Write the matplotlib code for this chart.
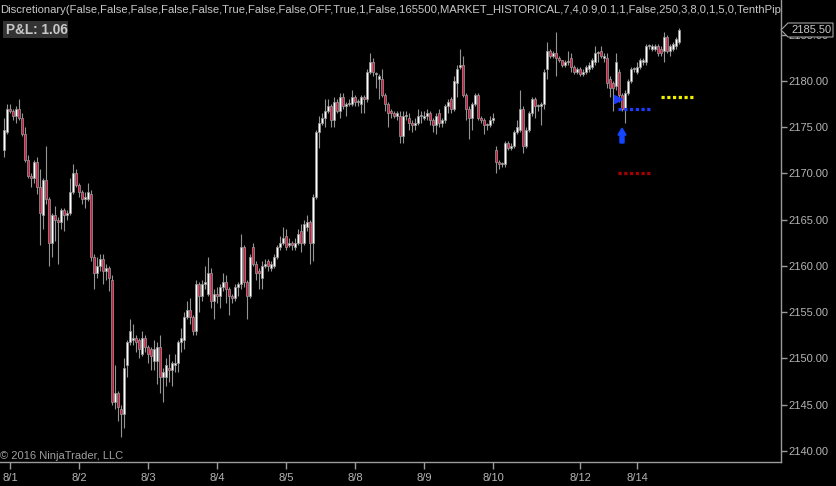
import matplotlib
matplotlib.use("Agg")
import matplotlib.pyplot as plt
from matplotlib.patches import Polygon, Rectangle, FancyArrow

# ---------------- data ----------------
opens = [
 2172.5, 2174.5, 2177.0, 2176.75, 2176.25, 2177.0, 2176.0, 2174.25, 2171.5, 2169.75,
 2169.5, 2171.25, 2168.5, 2165.5, 2169.25, 2167.25, 2162.5, 2165.5, 2165.0, 2164.75,
 2166.0, 2165.5, 2165.75, 2168.0, 2170.0, 2168.75, 2168.0, 2167.25, 2167.25, 2167.75,
 2161.0, 2159.25, 2160.0, 2160.75, 2159.5, 2159.75, 2158.5, 2145.25, 2146.25, 2144.5,
 2144.0, 2149.25, 2151.75, 2152.0, 2152.25, 2152.0, 2150.5, 2152.25, 2151.25, 2151.0,
 2149.75, 2149.75, 2151.25, 2148.0, 2148.0, 2149.0, 2148.75, 2149.25, 2149.5, 2151.75,
 2152.0, 2154.5, 2155.25, 2154.5, 2153.0, 2158.0, 2156.75, 2158.0, 2157.0, 2159.25,
 2156.25, 2157.0, 2156.75, 2157.75, 2158.25, 2157.5, 2156.75, 2156.5, 2157.75, 2158.0,
 2162.0, 2158.25, 2156.75, 2162.0, 2160.25, 2159.5, 2158.75, 2160.0, 2160.5, 2159.75,
 2160.0, 2161.0, 2162.0, 2162.5, 2163.25, 2162.25, 2162.5, 2162.0, 2162.5, 2163.75,
 2162.5, 2164.25, 2164.75, 2162.5, 2167.5, 2174.5, 2175.5, 2176.0, 2176.75, 2177.25,
 2175.75, 2177.75, 2176.75, 2178.25, 2177.25, 2177.5, 2177.5, 2178.25, 2177.75, 2177.5,
 2178.25, 2178.0, 2181.0, 2182.0, 2180.75, 2180.25, 2180.25, 2178.5, 2177.5, 2176.75,
 2176.5, 2176.25, 2176.25, 2174.0, 2176.25, 2176.0, 2175.5, 2175.25, 2175.5, 2176.25,
 2176.0, 2176.25, 2176.5, 2175.75, 2175.25, 2176.5, 2175.5, 2175.75, 2177.25, 2178.0,
 2177.0, 2179.75, 2181.5, 2181.75, 2178.5, 2177.0, 2176.0, 2177.5, 2178.5, 2176.0,
 2175.75, 2175.25, 2175.25, 2175.75, 2172.5, 2171.25, 2171.0, 2171.0, 2173.25, 2172.75,
 2173.0, 2174.5, 2174.75, 2177.0, 2173.0, 2174.75, 2176.5, 2178.0, 2177.25, 2177.25,
 2177.5, 2181.25, 2183.25, 2182.75, 2183.0, 2182.5, 2182.25, 2181.75, 2182.0, 2182.5,
 2181.5, 2181.0, 2181.25, 2180.75, 2181.0, 2181.25, 2181.5, 2182.0, 2183.0, 2183.25,
 2182.5, 2182.5, 2180.25, 2179.75, 2179.5, 2181.0, 2178.5, 2177.0, 2178.75, 2180.0,
 2181.25, 2181.0, 2181.5, 2182.0, 2182.0, 2183.75, 2183.5, 2183.5, 2183.75, 2183.5,
 2183.25, 2184.75, 2183.25, 2183.5, 2183.75, 2184.25,
]
highs = [
 2176.0, 2177.5, 2177.5, 2177.0, 2177.25, 2178.0, 2176.5, 2175.0, 2172.0, 2170.0,
 2171.5, 2171.75, 2170.5, 2169.5, 2173.0, 2167.5, 2165.75, 2166.5, 2165.25, 2166.25,
 2166.25, 2166.0, 2169.5, 2171.0, 2170.5, 2169.0, 2168.25, 2168.0, 2169.0, 2168.25,
 2161.25, 2161.0, 2161.25, 2161.25, 2160.25, 2160.0, 2159.0, 2149.25, 2146.5, 2145.0,
 2150.0, 2152.0, 2154.25, 2153.75, 2152.5, 2152.25, 2153.0, 2152.5, 2151.5, 2151.25,
 2152.0, 2151.75, 2152.5, 2149.0, 2150.0, 2150.5, 2149.75, 2150.5, 2152.0, 2153.25,
 2155.0, 2156.25, 2156.5, 2154.75, 2158.5, 2158.25, 2158.5, 2160.0, 2161.0, 2159.75,
 2157.5, 2157.75, 2158.0, 2159.25, 2159.0, 2157.75, 2157.0, 2158.0, 2158.25, 2163.5,
 2162.25, 2158.5, 2161.25, 2162.5, 2160.5, 2159.75, 2160.5, 2160.75, 2160.75, 2160.5,
 2161.25, 2162.25, 2163.25, 2164.25, 2164.0, 2163.0, 2162.75, 2163.0, 2164.0, 2164.5,
 2165.0, 2165.5, 2165.0, 2167.75, 2174.75, 2176.25, 2176.5, 2178.0, 2178.0, 2177.5,
 2178.25, 2178.0, 2178.75, 2178.75, 2177.75, 2178.0, 2179.0, 2178.5, 2178.0, 2178.5,
 2178.5, 2181.25, 2183.0, 2182.5, 2181.0, 2180.75, 2181.25, 2178.75, 2177.75, 2177.0,
 2176.75, 2176.75, 2176.75, 2176.75, 2176.75, 2176.5, 2175.75, 2176.0, 2177.0, 2176.75,
 2176.75, 2177.0, 2176.75, 2176.0, 2176.5, 2177.0, 2176.0, 2177.5, 2178.0, 2178.25,
 2180.5, 2181.75, 2183.5, 2182.75, 2178.75, 2177.25, 2177.75, 2178.75, 2178.75, 2176.25,
 2176.0, 2175.5, 2176.25, 2176.5, 2173.0, 2171.5, 2171.25, 2173.5, 2173.5, 2173.25,
 2174.75, 2175.75, 2179.0, 2177.25, 2175.0, 2176.75, 2178.25, 2178.25, 2177.5, 2177.75,
 2181.25, 2184.25, 2183.5, 2183.25, 2185.25, 2182.75, 2182.25, 2182.25, 2183.25, 2183.0,
 2181.75, 2181.5, 2181.5, 2181.25, 2181.75, 2182.0, 2182.5, 2183.75, 2183.25, 2183.75,
 2183.0, 2183.0, 2180.5, 2180.0, 2183.0, 2181.25, 2178.75, 2179.0, 2180.25, 2181.5,
 2181.5, 2182.0, 2182.5, 2182.5, 2184.0, 2184.0, 2184.0, 2184.0, 2184.0, 2183.75,
 2185.25, 2185.0, 2184.0, 2184.25, 2184.75, 2185.75,
]
lows = [
 2171.75, 2174.25, 2176.5, 2175.75, 2175.5, 2175.75, 2174.0, 2171.25, 2169.5, 2168.5,
 2169.0, 2167.75, 2162.25, 2164.0, 2166.75, 2160.0, 2161.0, 2162.75, 2160.25, 2164.0,
 2163.75, 2165.0, 2165.5, 2167.75, 2168.5, 2167.5, 2166.75, 2166.25, 2167.0, 2160.5,
 2157.5, 2158.75, 2159.5, 2158.0, 2158.5, 2157.25, 2145.0, 2144.5, 2143.25, 2141.5,
 2142.5, 2148.0, 2151.5, 2151.5, 2150.75, 2150.0, 2150.25, 2150.75, 2149.5, 2148.75,
 2148.75, 2147.25, 2146.25, 2145.25, 2147.0, 2147.5, 2147.0, 2148.5, 2148.5, 2150.75,
 2151.0, 2154.25, 2153.75, 2152.5, 2152.5, 2155.0, 2156.25, 2157.5, 2156.75, 2155.5,
 2154.25, 2156.0, 2155.5, 2157.25, 2156.0, 2154.75, 2156.0, 2156.25, 2156.75, 2157.5,
 2157.75, 2154.25, 2156.5, 2160.0, 2158.5, 2157.5, 2157.5, 2159.75, 2159.5, 2159.5,
 2159.75, 2160.75, 2161.75, 2162.25, 2161.75, 2162.0, 2161.75, 2161.75, 2162.25, 2161.5,
 2162.25, 2163.75, 2160.25, 2160.5, 2167.25, 2172.75, 2175.25, 2175.0, 2176.5, 2175.0,
 2175.0, 2176.5, 2176.0, 2177.0, 2176.25, 2177.25, 2177.25, 2177.25, 2177.25, 2176.5,
 2176.5, 2177.75, 2180.75, 2180.5, 2179.25, 2178.0, 2178.25, 2176.75, 2175.0, 2176.0,
 2176.0, 2175.75, 2173.25, 2173.25, 2175.75, 2174.75, 2174.5, 2174.75, 2175.25, 2175.5,
 2175.75, 2175.75, 2175.25, 2174.5, 2174.25, 2175.0, 2175.0, 2175.5, 2176.5, 2176.5,
 2176.75, 2178.25, 2181.25, 2178.25, 2175.75, 2173.75, 2174.75, 2177.25, 2175.75, 2175.5,
 2174.25, 2174.75, 2175.0, 2175.5, 2170.0, 2170.5, 2170.75, 2170.75, 2172.5, 2172.5,
 2172.75, 2174.25, 2174.5, 2172.25, 2172.75, 2174.5, 2176.25, 2176.0, 2176.75, 2175.25,
 2177.0, 2180.25, 2182.5, 2182.5, 2180.5, 2182.0, 2181.5, 2181.5, 2181.75, 2181.0,
 2180.75, 2180.75, 2180.5, 2180.5, 2180.75, 2181.0, 2181.25, 2181.75, 2182.0, 2182.5,
 2182.0, 2179.25, 2178.25, 2176.75, 2179.0, 2177.75, 2176.75, 2175.5, 2178.5, 2179.75,
 2181.0, 2180.75, 2181.25, 2181.75, 2181.75, 2183.5, 2183.25, 2183.25, 2182.75, 2182.75,
 2182.0, 2183.0, 2182.75, 2183.25, 2183.5, 2184.0,
]
closes = [
 2174.75, 2177.0, 2176.75, 2176.25, 2177.0, 2176.0, 2174.25, 2171.5, 2169.75, 2169.5,
 2171.25, 2168.5, 2165.75, 2169.25, 2167.25, 2162.5, 2165.5, 2165.0, 2164.75, 2166.0,
 2165.5, 2165.75, 2168.0, 2170.0, 2168.75, 2168.0, 2167.25, 2167.5, 2168.0, 2161.0,
 2159.25, 2160.0, 2160.75, 2159.5, 2159.75, 2158.75, 2145.25, 2146.25, 2144.75, 2144.0,
 2149.0, 2151.75, 2153.0, 2152.25, 2151.75, 2151.0, 2152.25, 2151.25, 2150.5, 2150.25,
 2151.0, 2151.25, 2148.0, 2148.5, 2149.25, 2148.75, 2149.5, 2149.5, 2151.75, 2152.25,
 2154.5, 2155.25, 2154.5, 2153.0, 2158.0, 2156.75, 2158.0, 2158.25, 2159.25, 2156.25,
 2157.0, 2156.75, 2157.75, 2158.25, 2157.5, 2156.75, 2156.5, 2157.75, 2158.0, 2162.0,
 2158.25, 2156.75, 2161.0, 2160.25, 2159.25, 2159.25, 2160.0, 2160.25, 2160.0, 2160.25,
 2161.0, 2162.0, 2162.5, 2163.0, 2162.0, 2162.5, 2162.25, 2162.5, 2163.5, 2162.5,
 2164.5, 2164.75, 2162.5, 2167.5, 2174.5, 2175.5, 2176.0, 2176.75, 2177.25, 2175.75,
 2177.75, 2176.75, 2178.25, 2177.25, 2177.5, 2177.5, 2178.25, 2177.75, 2177.75, 2178.25,
 2178.0, 2181.0, 2182.0, 2181.0, 2180.75, 2180.5, 2178.5, 2177.5, 2176.5, 2176.5,
 2176.25, 2176.5, 2174.0, 2176.25, 2176.25, 2175.5, 2175.25, 2175.5, 2176.25, 2176.25,
 2176.25, 2176.5, 2175.75, 2175.25, 2176.25, 2175.5, 2175.75, 2177.25, 2177.75, 2177.0,
 2180.0, 2181.25, 2181.75, 2178.5, 2177.0, 2176.0, 2177.5, 2178.5, 2176.0, 2175.75,
 2175.25, 2175.25, 2175.75, 2176.0, 2171.25, 2171.0, 2171.0, 2173.25, 2172.75, 2173.0,
 2174.5, 2175.0, 2177.0, 2173.0, 2174.75, 2176.5, 2178.0, 2177.25, 2177.25, 2177.5,
 2181.0, 2183.25, 2182.75, 2183.0, 2182.5, 2182.25, 2181.75, 2182.0, 2182.0, 2181.5,
 2181.0, 2181.25, 2180.75, 2181.0, 2181.5, 2181.75, 2182.25, 2183.0, 2183.0, 2182.75,
 2182.75, 2179.75, 2179.25, 2179.25, 2182.0, 2178.5, 2177.0, 2178.75, 2180.0, 2181.25,
 2181.25, 2181.5, 2182.25, 2182.25, 2183.75, 2183.75, 2183.75, 2183.75, 2183.0, 2183.0,
 2184.75, 2183.25, 2183.75, 2184.0, 2184.5, 2185.5,
]

date_labels = ["8/1", "8/2", "8/3", "8/4", "8/5", "8/8", "8/9", "8/10", "8/12", "8/14"]
date_bar_index = [3, 26, 49, 72, 95, 118, 141, 164, 193, 212]
price_ticks = [2140, 2145, 2150, 2155, 2160, 2165, 2170, 2175, 2180, 2185]

last_price = 2185.50
stop_price = 2170.00
entry_price = 2177.00
target_price = 2178.25
arrow_bar = 207
arrow_low, arrow_high = 2173.3, 2174.9
entry_marker_price = 2178.1

title_text = ("Discretionary(False,False,False,False,False,True,False,False,OFF,True,1,False,"
              "165500,MARKET_HISTORICAL,7,4,0.9,0.1,1,False,250,3,8,0,1,5,0,TenthPip")
pnl_text = "P&L: 1.06"
copyright_text = "\u00a9 2016 NinjaTrader, LLC"

# ---------------- drawing ----------------
W, H = 836, 486
plt.rcParams['font.family'] = ['Liberation Sans', 'DejaVu Sans']
fig = plt.figure(figsize=(W / 100, H / 100), dpi=100, facecolor='black')

def fx(px):
    return px / W

def fy(py):
    return 1 - py / H

ax = fig.add_axes([0, fy(462), fx(781), 462 / H])
ax.set_facecolor('black')

n = len(closes)
xs = list(range(1, n + 1))
grey = '#959595'
up_col = '#ffffff'
dn_col = '#dc143c'

ax.vlines(xs, lows, highs, color=grey, linewidth=0.8, zorder=2)
bottoms = [min(o, c) for o, c in zip(opens, closes)]
heights = [max(abs(c - o), 0.12) for o, c in zip(opens, closes)]
colors = [up_col if c >= o else dn_col for o, c in zip(opens, closes)]
ax.bar(xs, heights, bottom=bottoms, width=0.8, color=colors,
       edgecolor=grey, linewidth=0.55, zorder=3)

# strategy lines
ax.hlines(entry_price, 205.8, 217, colors='#1e3cff', linewidth=2.3,
          linestyles=[(0, (1, 0.8))], zorder=4)
ax.hlines(stop_price, 205.8, 217, colors='#a80000', linewidth=2.3,
          linestyles=[(0, (1, 0.8))], zorder=4)
ax.hlines(target_price, 220, 231, colors='#f0f000', linewidth=2.3,
          linestyles=[(0, (1, 0.8))], zorder=4)
ax.plot([205.7], [entry_marker_price], marker='>', color='#1e3cff',
        markersize=5.5, linestyle='none', zorder=5)
ax.add_patch(FancyArrow(arrow_bar, arrow_low, 0, arrow_high - arrow_low,
                        width=1.35, head_width=2.7, head_length=0.75,
                        length_includes_head=True, color='#1446ff', zorder=5))

ax.set_xlim(-1 / 3, 260)
ax.set_ylim(2140 - 11 / 9.25, 2140 + 451 / 9.25)

for s in ['left', 'top']:
    ax.spines[s].set_visible(False)
for s in ['right', 'bottom']:
    ax.spines[s].set_color('#9a9a9a')
    ax.spines[s].set_linewidth(1.0)

ax.yaxis.tick_right()
ax.set_yticks(price_ticks)
ax.set_yticklabels([f"{p:.2f}" for p in price_ticks])
ax.tick_params(axis='y', colors='#9a9a9a', labelcolor='#b4b4b4', length=4,
               width=1, pad=1, labelsize=8)
ax.set_xticks(date_bar_index)
ax.set_xticklabels(date_labels)
ax.tick_params(axis='x', colors='#9a9a9a', labelcolor='#b4b4b4', length=5,
               width=1, pad=3, labelsize=8)

# texts
fig.text(fx(0), fy(10), title_text, color='#c8c8c8', fontsize=8.1,
         ha='left', va='center')
fig.patches.append(Rectangle((fx(3), fy(38)), fx(65), 17 / H,
                             transform=fig.transFigure, facecolor='#333333',
                             edgecolor='none', zorder=5))
fig.text(fx(6), fy(29.5), pnl_text, color='#c8c8c8', fontsize=9.8,
         fontweight='bold', ha='left', va='center', zorder=6)
fig.text(fx(0), fy(456), copyright_text, color='#a0a0a0', fontsize=8,
         ha='left', va='center')

# last-price marker box (drawn over the partly hidden 2185.00 label, as in the original)
pts = [(781, 30), (788, 23), (833, 23), (833, 37), (788, 37)]
fig.patches.append(Polygon([(fx(a), fy(b)) for a, b in pts], closed=True,
                           transform=fig.transFigure, facecolor='black',
                           edgecolor='#a0a0a0', linewidth=0.8, zorder=5))
fig.text(fx(811), fy(30), f"{last_price:.2f}", color='#c8c8c8', fontsize=8,
         ha='center', va='center', zorder=6)

fig.savefig('out.png', dpi=100, facecolor='black')
